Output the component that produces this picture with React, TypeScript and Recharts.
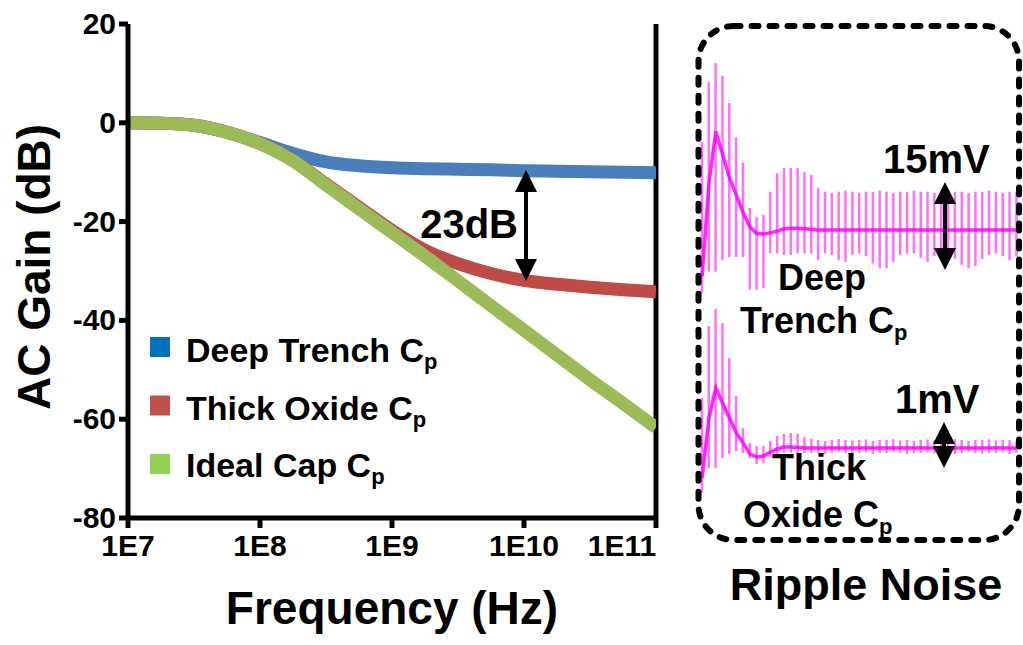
import React from 'react';
import { LineChart, Line, XAxis, YAxis, ReferenceLine, ComposedChart, Bar } from 'recharts';

const FONT = '"Liberation Sans", Arial, sans-serif';

// --- AC gain sweep, x read as log10(frequency) ---
const FREQ_EXP = [7, 7.25, 7.5, 7.75, 8, 8.25, 8.5, 8.75, 9, 9.25, 9.5, 9.75, 10, 10.25, 10.5, 10.75, 11];
const DEEP_TRENCH = [0, -0.1, -0.5, -1.9, -4.0, -6.2, -7.9, -8.7, -9.1, -9.3, -9.4, -9.5, -9.7, -9.8, -9.9, -10.0, -10.1];
const THICK_OXIDE = [0, -0.1, -0.5, -1.9, -4.2, -7.6, -12.4, -17.1, -21.8, -25.8, -28.5, -30.5, -31.9, -32.7, -33.3, -33.8, -34.2];
const IDEAL_CAP = [0, -0.1, -0.5, -1.9, -4.2, -7.7, -12.6, -17.4, -22.2, -27.0, -32.0, -37.0, -42.0, -47.0, -52.0, -56.8, -61.7];
const FREQ_TICKS = [1e7, 1e8, 1e9, 1e10, 1e11];
const GAIN_TICKS = [-80, -60, -40, -20, 0, 20];

// --- ripple transient, one entry per switching spike (mV, relative to settled level) ---
const DT_HI = [15.2, 25.5, 28.8, 26.6, 21.9, 16.0, 11.6, 3.8, 2.2, 2.6, 6.6, 9.8, 10.7, 10.7, 10.7, 10.0, 9.5, 7.2,
  6.6, 6.4, 6.6, 6.8, 6.6, 6.4, 6.6, 6.6, 6.8, 6.6,
  6.4, 6.6, 6.6, 6.8, 6.6, 6.6, 6.4, 6.6, 6.8, 6.6,
  6.6, 6.4, 6.6, 6.6, 6.8, 6.6, 6.4, 6.6, 6.6];
const DT_LO = [-10.9, -7.2, -7.2, -5.2, -4.7, -4.7, -4.7, -10.3, -10.3, -10.0, -4.0, -4.0, -4.3, -4.3, -4.0, -4.0, -4.0, -5.2,
  -4.0, -4.3, -5.2, -5.5, -4.3, -4.0, -4.5, -5.8, -6.6, -6.6,
  -5.5, -4.3, -4.0, -4.0, -4.8, -5.5, -4.5, -4.0, -4.2, -5.0,
  -6.0, -6.6, -6.2, -5.0, -4.3, -4.0, -4.5, -5.2, -4.6];
const DT_BASE = [-8, 8, 17, 13, 9, 6, 3, 0.5, -0.6, -0.7, -0.5, -0.2, 0.2, 0.3, 0.3, 0.2, 0.1, 0,
  0, 0, 0, 0, 0, 0, 0, 0, 0, 0,
  0, 0, 0, 0, 0, 0, 0, 0, 0, 0,
  0, 0, 0, 0, 0, 0, 0, 0, 0];

const TO_HI = [1.0, 2.44, 2.78, 2.5, 1.8, 1.04, 0.4, 0.1, 0.04, 0.04, 0.14, 0.24, 0.28, 0.3, 0.28, 0.22, 0.18,
  0.16, 0.14, 0.16, 0.18, 0.16, 0.15, 0.16, 0.17, 0.14, 0.16,
  0.16, 0.18, 0.15, 0.16, 0.14, 0.16, 0.17, 0.16, 0.15, 0.16,
  0.18, 0.16, 0.14, 0.16, 0.16, 0.17, 0.15, 0.16, 0.16, 0.14];
const TO_LO = [-0.9, -0.4, -0.4, -0.2, -0.12, -0.06, -0.1, -0.2, -0.32, -0.3, -0.18, -0.12, -0.1, -0.1, -0.1, -0.1, -0.1,
  -0.1, -0.12, -0.1, -0.08, -0.1, -0.11, -0.1, -0.09, -0.12, -0.1,
  -0.1, -0.08, -0.1, -0.12, -0.1, -0.1, -0.09, -0.11, -0.1, -0.1,
  -0.12, -0.1, -0.08, -0.1, -0.11, -0.1, -0.1, -0.09, -0.12, -0.1];
const TO_BASE = [-0.6, 0.6, 1.2, 0.9, 0.6, 0.3, 0.1, -0.12, -0.18, -0.16, -0.08, -0.02, 0.02, 0.02, 0.01, 0, 0,
  0, 0, 0, 0, 0, 0, 0, 0, 0, 0,
  0, 0, 0, 0, 0, 0, 0, 0, 0, 0,
  0, 0, 0, 0, 0, 0, 0, 0, 0, 0];

const gainData = FREQ_EXP.map((e, i) => ({
  freq: Math.pow(10, e),
  deep: DEEP_TRENCH[i],
  thick: THICK_OXIDE[i],
  ideal: IDEAL_CAP[i],
}));

const deepRipple = DT_HI.map((hi, i) => ({ t: i, spike: [DT_LO[i], hi], base: DT_BASE[i] }));
const thickRipple = TO_HI.map((hi, i) => ({ t: i, spike: [TO_LO[i], hi], base: TO_BASE[i] }));

const LEGEND = [
  { label: 'Deep Trench C', color: '#0070C0' },
  { label: 'Thick Oxide C', color: '#C0504D' },
  { label: 'Ideal Cap C', color: '#92D050' },
];

// recharts already pulls the last label inside the axis end (preserveEnd)
const FreqTick = (props: any) => {
  const { x, y, payload } = props;
  return (
    <text x={x} y={y + 26} textAnchor="middle"
      fontFamily={FONT} fontWeight="bold" fontSize={30} fill="#000">
      {`1E${Math.round(Math.log10(payload.value))}`}
    </text>
  );
};

const GainTick = (props: any) => {
  const { x, y, payload } = props;
  return (
    <text x={x} y={y + 10} textAnchor="end" fontFamily={FONT} fontWeight="bold" fontSize={30} fill="#000">
      {payload.value}
    </text>
  );
};

const Arrow = ({ x, y1, y2 }: { x: number; y1: number; y2: number }) => {
  const hw = 11, hl = 22;
  return (
    <g fill="#000" stroke="none">
      <rect x={x - 2} y={y1 + hl - 2} width={4} height={y2 - y1 - 2 * hl + 4} />
      <polygon points={`${x},${y1} ${x - hw},${y1 + hl} ${x + hw},${y1 + hl}`} />
      <polygon points={`${x},${y2} ${x - hw},${y2 - hl} ${x + hw},${y2 - hl}`} />
    </g>
  );
};

const Sub = ({ children }: { children: string }) => (
  <tspan fontSize={22} dy={7}>{children}</tspan>
);

const RipplePlot = ({ data, domain, top, height }: { data: any[]; domain: number[]; top: number; height: number }) => (
  <div style={{ position: 'absolute', left: 698, top, width: 322, height }}>
    <ComposedChart width={322} height={height} data={data} margin={{ top: 0, right: 0, bottom: 0, left: 0 }}>
      <XAxis dataKey="t" type="number" domain={[-0.6, 46.5]} hide />
      <YAxis type="number" domain={domain} hide allowDataOverflow />
      <Bar dataKey="spike" barSize={2.5} fill="#ff33ff" fillOpacity={0.7} isAnimationActive={false} />
      <Line dataKey="base" type="linear" stroke="#ff00ff" strokeOpacity={0.85} strokeWidth={3.5} dot={false} isAnimationActive={false} />
    </ComposedChart>
  </div>
);

export default function App() {
  return (
    <div style={{ position: 'absolute', left: 0, top: 0, width: 1023, height: 645, background: '#fff', fontFamily: FONT }}>
      <div style={{ position: 'absolute', left: 0, top: 0 }}>
        <LineChart width={670} height={645} data={gainData} margin={{ top: 24, right: 14, bottom: 0, left: 0 }}>
          <XAxis dataKey="freq" type="number" scale="log" domain={[1e7, 1e11]} ticks={FREQ_TICKS}
            allowDataOverflow height={127} tick={<FreqTick />} tickSize={10} tickMargin={2}
            axisLine={{ stroke: '#000', strokeWidth: 5 }} tickLine={{ stroke: '#000', strokeWidth: 5 }} />
          <YAxis type="number" domain={[-80, 20]} ticks={GAIN_TICKS} width={128} tick={<GainTick />}
            tickSize={9} tickMargin={3}
            axisLine={{ stroke: '#000', strokeWidth: 5 }} tickLine={{ stroke: '#000', strokeWidth: 5 }} />
          <ReferenceLine x={1e11} stroke="#000" strokeWidth={5} />
          <Line dataKey="deep" type="monotone" stroke="#4A7EBB" strokeWidth={13} dot={false} isAnimationActive={false} />
          <Line dataKey="thick" type="monotone" stroke="#BE4B48" strokeWidth={13} dot={false} isAnimationActive={false} />
          <Line dataKey="ideal" type="monotone" stroke="#9BBB59" strokeWidth={13} dot={false} isAnimationActive={false} />
        </LineChart>
      </div>

      <RipplePlot data={deepRipple} domain={[-12.07, 32.76]} top={40} height={260} />
      <RipplePlot data={thickRipple} domain={[-1.04, 2.96]} top={300} height={200} />

      <svg width={1023} height={645} style={{ position: 'absolute', left: 0, top: 0, pointerEvents: 'none' }}
        fontFamily={FONT} fontWeight="bold" fill="#000">
        {/* axis titles */}
        <text x={50} y={267} fontSize={46} textAnchor="middle" transform="rotate(-90 50 267)">AC Gain (dB)</text>
        <text x={392} y={624} fontSize={46} textAnchor="middle">Frequency (Hz)</text>
        <text x={866} y={600} fontSize={45} textAnchor="middle">Ripple Noise</text>

        {/* legend */}
        {LEGEND.map((l, i) => (
          <g key={l.label}>
            <rect x={150} y={337 + i * 58.5} width={20} height={20} fill={l.color} />
            <text x={186} y={362 + i * 57.5} fontSize={34}>{l.label}<Sub>p</Sub></text>
          </g>
        ))}

        {/* 23dB annotation */}
        <text x={518} y={238} fontSize={40} textAnchor="end">23dB</text>
        <Arrow x={526} y1={170} y2={281} />

        {/* ripple panel */}
        <rect x={698.5} y={26} width={320.5} height={514} rx={35} fill="none" stroke="#000" strokeWidth={6}
          strokeDasharray="7 11" strokeLinecap="round" />
        <text x={883} y={173} fontSize={40}>15mV</text>
        <Arrow x={945} y1={182} y2={270} />
        <text x={778} y={290} fontSize={36}>Deep</text>
        <text x={740} y={333} fontSize={36}>Trench C<Sub>p</Sub></text>
        <text x={895} y={413} fontSize={40}>1mV</text>
        <Arrow x={944} y1={422} y2={468} />
        <text x={772} y={480} fontSize={36}>Thick</text>
        <text x={743} y={527} fontSize={36}>Oxide C<Sub>p</Sub></text>
      </svg>
    </div>
  );
}
